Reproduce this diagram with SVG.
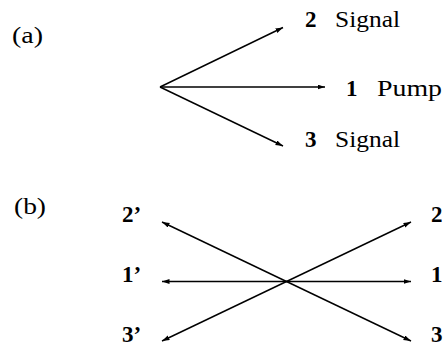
<svg xmlns="http://www.w3.org/2000/svg" width="445" height="346" viewBox="0 0 445 346">
<style>
text{font-family:'Liberation Serif','DejaVu Serif',serif;font-size:24px;fill:#000}
.b{font-weight:bold;font-size:23px}
.ln{stroke:#000;stroke-width:1.4;fill:none}
</style>
<defs>
<marker id="ah" markerUnits="userSpaceOnUse" markerWidth="8" markerHeight="6" refX="7.5" refY="2.5" orient="auto-start-reverse">
<path d="M0,0 L7.5,2.5 L0,5 z" fill="#000"/>
</marker>
</defs>
<rect width="445" height="346" fill="#fff"/>
<g id="label-a"><text x="12" y="43" textLength="31" lengthAdjust="spacingAndGlyphs">(a)</text></g>
<g id="label-b"><text x="14" y="214" textLength="32" lengthAdjust="spacingAndGlyphs">(b)</text></g>
<g id="a-signal2"><text class="b" x="305" y="27">2</text><text x="335" y="27" textLength="65" lengthAdjust="spacingAndGlyphs">Signal</text></g>
<g id="a-pump1"><text class="b" x="346" y="96">1</text><text x="377" y="96" textLength="65" lengthAdjust="spacingAndGlyphs">Pump</text></g>
<g id="a-signal3"><text class="b" x="305" y="147">3</text><text x="335" y="147" textLength="65" lengthAdjust="spacingAndGlyphs">Signal</text></g>
<g id="b-2p"><text class="b" x="122" y="222">2’</text></g>
<g id="b-1p"><text class="b" x="122" y="282">1’</text></g>
<g id="b-3p"><text class="b" x="122" y="342">3’</text></g>
<g id="b-2"><text class="b" x="431" y="222">2</text></g>
<g id="b-1"><text class="b" x="431" y="282">1</text></g>
<g id="b-3"><text class="b" x="431" y="342">3</text></g>
<g id="connectors">
<line class="ln" x1="160" y1="87" x2="283" y2="27.5" marker-end="url(#ah)"/>
<line class="ln" x1="160" y1="87" x2="325" y2="87" marker-end="url(#ah)"/>
<line class="ln" x1="160" y1="87" x2="283" y2="146" marker-end="url(#ah)"/>
<line class="ln" x1="162" y1="222" x2="411" y2="341" marker-start="url(#ah)" marker-end="url(#ah)"/>
<line class="ln" x1="162" y1="281.5" x2="411" y2="281.5" marker-start="url(#ah)" marker-end="url(#ah)"/>
<line class="ln" x1="162" y1="341" x2="411" y2="222" marker-start="url(#ah)" marker-end="url(#ah)"/>
</g>
</svg>
